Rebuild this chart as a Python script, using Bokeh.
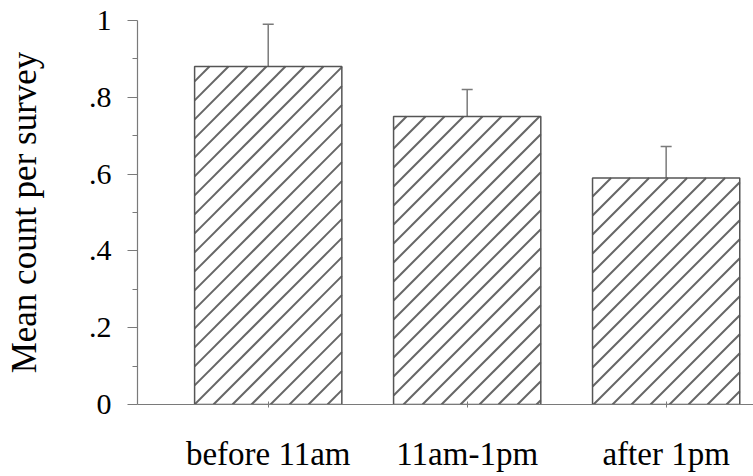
import numpy as np
from bokeh.plotting import figure
from bokeh.models import (Range1d, FixedTicker, CustomJSTickFormatter, Whisker,
                          TeeHead, ColumnDataSource)
from bokeh.embed import file_html
from bokeh.resources import INLINE

# ---- data ----
categories = ["before 11am", "11am-1pm", "after 1pm"]
means = [0.88, 0.75, 0.59]
errors = [0.11, 0.07, 0.082]
y_ticks = [0, 0.2, 0.4, 0.6, 0.8, 1]
y_minor = [0.1, 0.3, 0.5, 0.7, 0.9]

idx = np.arange(1, len(categories) + 1)
src = ColumnDataSource(dict(
    x=idx, top=means,
    upper=np.array(means) + np.array(errors),
))

FONT = "Liberation Serif"
AXIS = "#7a7a7a"
W, H = 753, 476
BL, BR, BT, BB = 137, 0, 20, 72
XR = (0.343, 3.439)
YR = (0.0, 1.0)
BAR_W = 0.74

p = figure(width=W, height=H, output_backend="svg", toolbar_location=None,
           x_range=Range1d(*XR), y_range=Range1d(*YR),
           min_border_left=BL, min_border_right=BR, min_border_top=BT,
           min_border_bottom=BB)
p.outline_line_color = None
p.grid.visible = False
p.background_fill_color = "white"
p.border_fill_color = "white"

# bar fill
p.vbar(x="x", top="top", bottom=0, width=BAR_W, source=src,
       fill_color="white", line_color=None)

# 45-degree hatching (screen space) clipped to each bar, derived from bar extents
sx = (W - BL - BR) / (XR[1] - XR[0])   # px per x unit
sy = (H - BT - BB) / (YR[1] - YR[0])   # px per y unit
gap = 19.0                             # hatch spacing in px (horizontal)
hx0, hy0, hx1, hy1 = [], [], [], []
for xc, t in zip(idx, means):
    uL, uR = (xc - BAR_W / 2 - XR[0]) * sx, (xc + BAR_W / 2 - XR[0]) * sx
    vT = t * sy
    for c in np.arange(np.floor((uL - vT) / gap) * gap, uR + gap, gap):
        u0 = max(uL, c)
        u1 = min(uR, c + vT)
        if u1 - u0 > 0.5:
            hx0.append(u0 / sx + XR[0]); hy0.append((u0 - c) / sy)
            hx1.append(u1 / sx + XR[0]); hy1.append((u1 - c) / sy)
p.segment(x0=hx0, y0=hy0, x1=hx1, y1=hy1, line_color="#666666", line_width=2)

# bar outline
p.vbar(x="x", top="top", bottom=0, width=BAR_W, source=src,
       fill_color=None, line_color="#555555", line_width=1.5)

w = Whisker(source=src, base="x", lower="top", upper="upper", dimension="height",
            line_color=AXIS, line_width=1.5,
            lower_head=None,
            upper_head=TeeHead(size=11, line_color=AXIS, line_width=1.5))
p.add_layout(w)

# y axis
ya = p.yaxis[0]
ya.ticker = FixedTicker(ticks=y_ticks, minor_ticks=y_minor)
ya.formatter = CustomJSTickFormatter(code="""
    if (Math.abs(tick) < 1e-9) return "0";
    if (Math.abs(tick - 1) < 1e-9) return "1";
    return tick.toFixed(1).replace(/^0/, "");
""")
ya.axis_label = "Mean count per survey"
ya.axis_label_text_font = FONT
ya.axis_label_text_font_size = "35px"
ya.axis_label_text_font_style = "normal"
ya.axis_label_text_color = "black"
ya.axis_label_standoff = 42
ya.major_label_text_font = FONT
ya.major_label_text_font_size = "30px"
ya.major_label_text_color = "black"
ya.major_label_standoff = 16
ya.major_tick_in = 0
ya.major_tick_out = 10
ya.minor_tick_in = 0
ya.minor_tick_out = 5
ya.axis_line_color = AXIS
ya.major_tick_line_color = AXIS
ya.minor_tick_line_color = AXIS
ya.axis_line_width = 1.2

# x axis
xa = p.xaxis[0]
xa.ticker = FixedTicker(ticks=list(idx))
xa.formatter = CustomJSTickFormatter(args=dict(labels=categories),
                                     code="return labels[Math.round(tick) - 1];")
xa.major_label_text_font = FONT
xa.major_label_text_font_size = "33px"
xa.major_label_text_color = "black"
xa.major_label_standoff = 28
xa.major_tick_in = 3
xa.major_tick_out = 3
xa.minor_tick_line_color = None
xa.axis_line_color = AXIS
xa.major_tick_line_color = AXIS
xa.axis_line_width = 1.2

open("out.html", "w").write(file_html(p, INLINE))
